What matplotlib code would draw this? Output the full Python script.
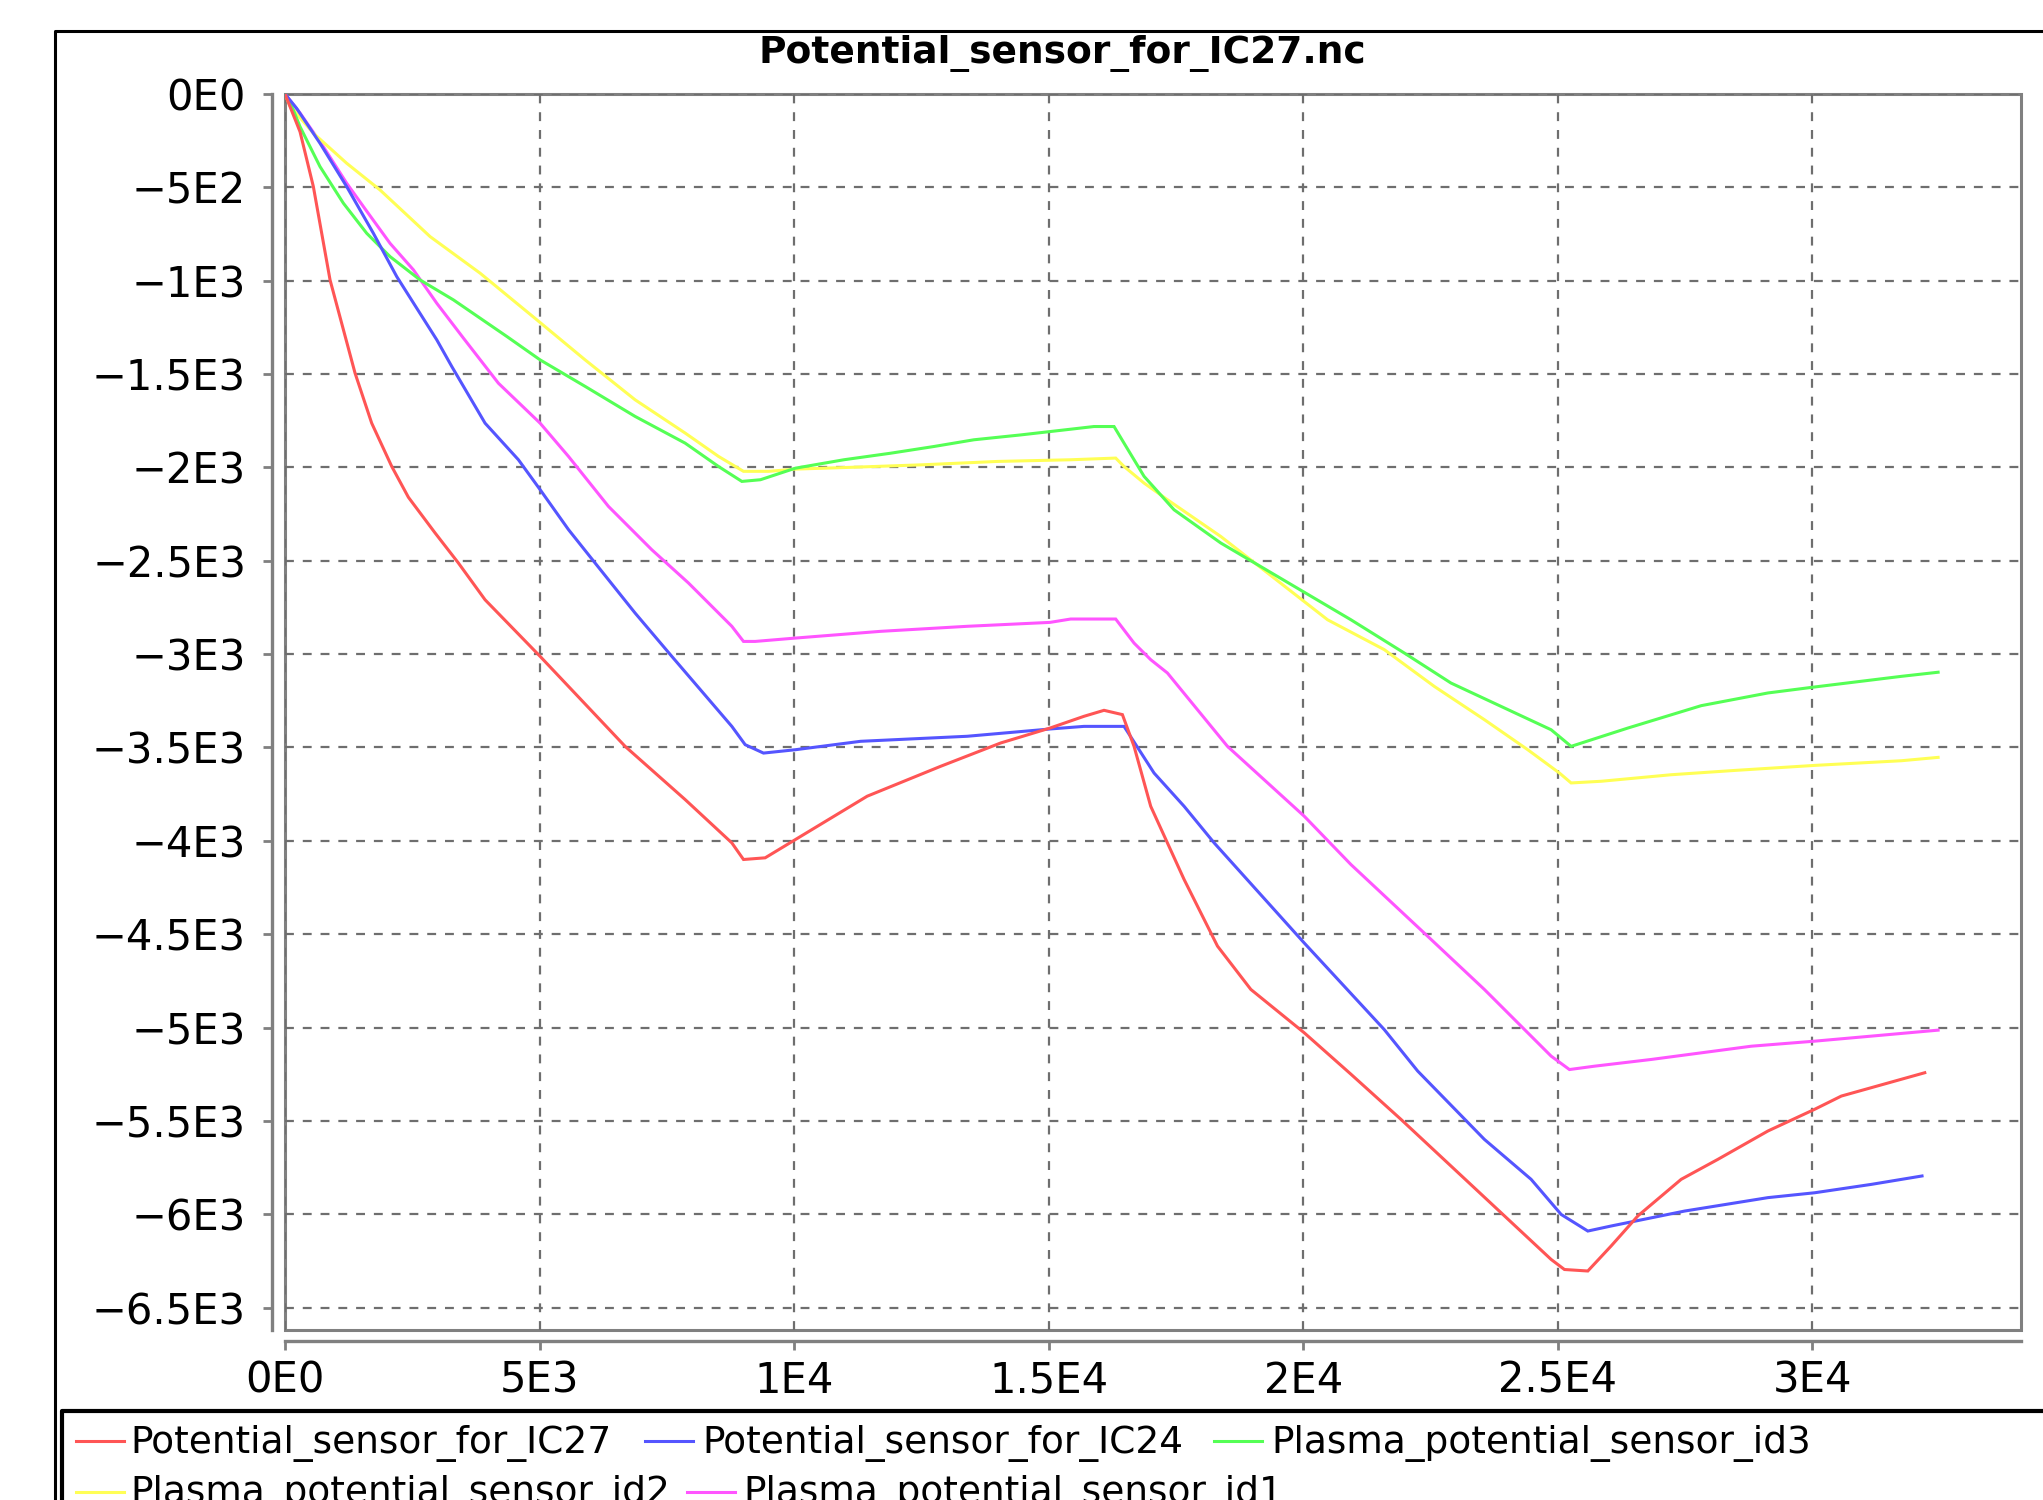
import matplotlib

matplotlib.use("Agg")
import matplotlib.pyplot as plt
from matplotlib.lines import Line2D
from matplotlib.patches import Rectangle

TITLE = "Potential_sensor_for_IC27.nc"

SERIES_NAMES = [
    "Potential_sensor_for_IC27",
    "Potential_sensor_for_IC24",
    "Plasma_potential_sensor_id3",
    "Plasma_potential_sensor_id2",
    "Plasma_potential_sensor_id1",
]
SERIES_COLORS = ["#ff5555", "#5555ff", "#55ff55", "#ffff55", "#ff55ff"]

ic27_x = [0, 295, 557, 885, 1376, 1703, 2097, 2424, 2948, 3406, 3930, 5011, 6681,
          7860, 8777, 9006, 9432, 10027, 11436, 12877, 14057, 15027, 15695, 16088,
          16449, 16678, 17005, 17661, 18317, 18972, 20020, 20938, 21921, 22904, 23887,
          24870, 25132, 25591, 26049, 26574, 27425, 28146, 29130, 30046, 30571,
          31161, 32210]
ic27_y = [0, -202, -496, -996, -1495, -1763, -1995, -2160, -2351, -2512, -2709, -3012,
          -3494, -3779, -4011, -4100, -4091, -3993, -3761, -3601, -3476, -3396, -3333,
          -3301, -3324, -3494, -3815, -4207, -4564, -4796, -5028, -5250, -5492, -5742,
          -5992, -6242, -6296, -6304, -6170, -6009, -5813, -5706, -5554, -5438, -5367,
          -5322, -5242]

ic24_x = [0, 229, 688, 1212, 1736, 2195, 2982, 3275, 3930, 4585, 5011, 5568, 6091,
          6877, 7598, 8777, 9039, 9399, 10027, 11305, 13401, 15027, 15695, 16481,
          17071, 17661, 18251, 20020, 21593, 22249, 23559, 24477, 25067, 25591, 26049,
          27491, 29130, 30046, 31161, 32156]
ic24_y = [0, -77, -264, -496, -746, -978, -1317, -1459, -1763, -1959, -2119, -2333,
          -2512, -2780, -3012, -3387, -3485, -3530, -3512, -3467, -3440, -3401, -3387,
          -3387, -3637, -3815, -4011, -4547, -5011, -5233, -5599, -5813, -6001, -6090,
          -6063, -5983, -5911, -5885, -5840, -5795]

id3_x = [0, 65, 164, 295, 688, 1147, 1605, 2064, 2654, 3310, 4359, 5011, 5895, 6878,
         7860, 8515, 8974, 9339, 10027, 10977, 11895, 12746, 13532, 14450, 15027,
         15891, 16285, 16481, 16875, 17464, 18382, 20938, 21986, 22904, 23887, 24870,
         25263, 26377, 27819, 29130, 30047, 31751, 32472]
id3_y = [0, -32, -86, -175, -389, -585, -746, -871, -996, -1103, -1299, -1424, -1566,
         -1727, -1870, -1995, -2075, -2066, -2004, -1959, -1924, -1888, -1852, -1826,
         -1808, -1781, -1781, -1870, -2048, -2227, -2405, -2816, -2994, -3155, -3280,
         -3405, -3494, -3396, -3276, -3208, -3176, -3119, -3097]

id2_x = [0, 98, 557, 1212, 1867, 2851, 3834, 4949, 5895, 6878, 7860, 8515, 9006, 9500,
         10027, 11174, 12517, 13991, 15433, 16317, 16481, 16875, 17333, 18382, 20479,
         21593, 22576, 23559, 24411, 25034, 25263, 25853, 27229, 28474, 30047, 31751,
         32472]
id2_y = [0, -64, -210, -371, -514, -764, -960, -1210, -1424, -1638, -1816, -1941,
         -2021, -2021, -2009, -1999, -1986, -1968, -1959, -1950, -1995, -2084, -2173,
         -2370, -2816, -2976, -3173, -3351, -3512, -3637, -3690, -3681, -3646, -3623,
         -3596, -3571, -3553]

id1_x = [0, 295, 753, 1212, 1540, 2064, 2523, 2982, 3506, 4192, 5011, 5568, 6354,
         7205, 7925, 8777, 9006, 9235, 10027, 11698, 13401, 15027, 15433, 16317, 16678,
         17006, 17333, 18513, 20020, 20938, 22445, 23559, 24870, 25230, 25722, 26836,
         28802, 30046, 31161, 32472]
id1_y = [0, -102, -282, -478, -603, -800, -942, -1121, -1308, -1549, -1763, -1941,
         -2209, -2441, -2619, -2851, -2932, -2932, -2914, -2878, -2851, -2830, -2812,
         -2812, -2941, -3030, -3101, -3494, -3868, -4127, -4511, -4796, -5153, -5225,
         -5207, -5171, -5100, -5073, -5046, -5014]

X_TICKS = [0, 5000, 10000, 15000, 20000, 25000, 30000]
X_TICK_LABELS = ["0E0", "5E3", "1E4", "1.5E4", "2E4", "2.5E4", "3E4"]
Y_TICKS = [0, -500, -1000, -1500, -2000, -2500, -3000, -3500, -4000, -4500,
           -5000, -5500, -6000, -6500]
Y_TICK_LABELS = ["0E0", "\u22125E2", "\u22121E3", "\u22121.5E3", "\u22122E3",
                 "\u22122.5E3", "\u22123E3", "\u22123.5E3", "\u22124E3", "\u22124.5E3",
                 "\u22125E3", "\u22125.5E3", "\u22126E3", "\u22126.5E3"]

W, H = 2043, 1500
GRAY = "#808080"


def fx(px):
    return px / W


def fy(py):
    return 1 - py / H


def main():
    plt.rcParams["font.family"] = ["DejaVu Sans"]
    fig = plt.figure(figsize=(W / 100, H / 100), dpi=100)
    ax = fig.add_axes([fx(285), fy(1330), (2021 - 285) / W, (1330 - 94) / H])

    xs = [ic27_x, ic24_x, id3_x, id2_x, id1_x]
    ys = [ic27_y, ic24_y, id3_y, id2_y, id1_y]
    # first series painted last, like the original renderer
    for i, (x, y) in enumerate(zip(xs, ys)):
        ax.plot(x, y, color=SERIES_COLORS[i], lw=2.2, zorder=6 - i,
                solid_joinstyle="miter")

    ax.set_xlim(0, 34100)
    ax.set_ylim(-6620, 0)
    ax.set_xticks(X_TICKS)
    ax.set_xticklabels(X_TICK_LABELS)
    ax.set_yticks(Y_TICKS)
    ax.set_yticklabels(Y_TICK_LABELS)

    ax.set_axisbelow(True)
    ax.grid(True, color="#6e6e6e", lw=1.6, linestyle=(0, (4, 4)))
    ax.add_patch(Rectangle((0, 0), 1, 1, transform=ax.transAxes, fill=False,
                           ec=GRAY, lw=2.2, zorder=0.4, clip_on=False))

    for side in ["top", "right"]:
        ax.spines[side].set_visible(False)
    ax.spines["left"].set_position(("outward", 9.5))
    ax.spines["bottom"].set_position(("outward", 8))
    for side in ["left", "bottom"]:
        ax.spines[side].set_color(GRAY)
        ax.spines[side].set_linewidth(2.4)
    ax.tick_params(axis="both", direction="out", length=6.5, width=2,
                   color=GRAY, labelsize=30, labelcolor="black")
    ax.tick_params(axis="y", pad=12)
    ax.tick_params(axis="x", pad=7)

    fig.text(fx(1062), fy(54), TITLE, ha="center", va="center",
             fontsize=27, fontweight="bold")

    # chart border and legend box, both cut off by the image edge
    fig.add_artist(Line2D([fx(55), fx(55), fx(W)], [fy(H), fy(31), fy(31)],
                          color="black", lw=2.2))
    fig.add_artist(Line2D([fx(62), fx(62), fx(W)], [fy(H), fy(1411), fy(1411)],
                          color="black", lw=3))

    legend_pos = [(76, 130, 1441), (645, 702, 1441), (1214, 1271, 1441),
                  (76, 130, 1492), (687, 743, 1492)]
    for i, (lx, tx, ly) in enumerate(legend_pos):
        fig.add_artist(Line2D([fx(lx), fx(lx + 48)], [fy(ly), fy(ly)],
                              color=SERIES_COLORS[i], lw=2.2))
        fig.text(fx(tx), fy(ly + 2), SERIES_NAMES[i], ha="left", va="center",
                 fontsize=27)

    fig.savefig("out.png", dpi=100, facecolor="white")
    plt.close(fig)


if __name__ == "__main__":
    main()
